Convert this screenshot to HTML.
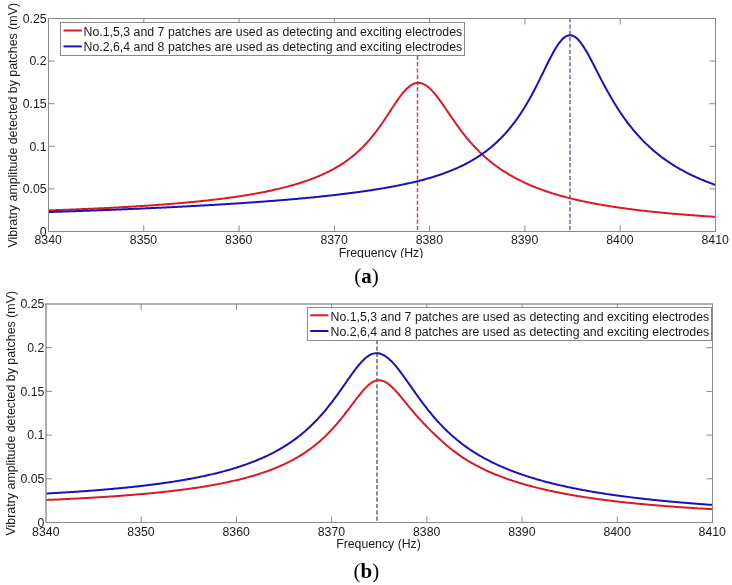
<!DOCTYPE html><html><head><meta charset="utf-8"><style>html,body{margin:0;padding:0;background:#fff;}svg{display:block;will-change:transform}</style></head><body>
<svg width="732" height="585" viewBox="0 0 732 585" font-family='"Liberation Sans", sans-serif'>
<rect width="732" height="585" fill="#fff"/>
<defs><clipPath id="ca"><rect x="48.5" y="18.5" width="667" height="213"/></clipPath><clipPath id="cb"><rect x="46" y="304" width="666.5" height="218.5"/></clipPath><clipPath id="xla"><rect x="0" y="240" width="732" height="18"/></clipPath></defs>
<g clip-path="url(#ca)">
<line x1="417.5" y1="24.3" x2="417.5" y2="232" stroke="#c84860" stroke-width="1.5" stroke-dasharray="4.2 2.1"/>
<line x1="570" y1="18.2" x2="570" y2="232" stroke="#6a6aa6" stroke-width="1.5" stroke-dasharray="4.2 2.1"/>
<path d="M48.5,210.37 L49.5,210.34 L50.5,210.31 L51.5,210.27 L52.5,210.24 L53.5,210.21 L54.5,210.17 L55.5,210.14 L56.5,210.10 L57.5,210.07 L58.5,210.03 L59.5,210.00 L60.5,209.96 L61.5,209.92 L62.5,209.89 L63.5,209.85 L64.5,209.81 L65.5,209.78 L66.5,209.74 L67.5,209.70 L68.5,209.66 L69.5,209.63 L70.5,209.59 L71.5,209.55 L72.5,209.51 L73.5,209.47 L74.5,209.43 L75.5,209.39 L76.5,209.35 L77.5,209.31 L78.5,209.27 L79.5,209.23 L80.5,209.19 L81.5,209.15 L82.5,209.11 L83.5,209.06 L84.5,209.02 L85.5,208.98 L86.5,208.94 L87.5,208.89 L88.5,208.85 L89.5,208.80 L90.5,208.76 L91.5,208.72 L92.5,208.67 L93.5,208.63 L94.5,208.58 L95.5,208.53 L96.5,208.49 L97.5,208.44 L98.5,208.39 L99.5,208.35 L100.5,208.30 L101.5,208.25 L102.5,208.20 L103.5,208.16 L104.5,208.11 L105.5,208.06 L106.5,208.01 L107.5,207.96 L108.5,207.91 L109.5,207.86 L110.5,207.81 L111.5,207.75 L112.5,207.70 L113.5,207.65 L114.5,207.60 L115.5,207.55 L116.5,207.49 L117.5,207.44 L118.5,207.38 L119.5,207.33 L120.5,207.28 L121.5,207.22 L122.5,207.16 L123.5,207.11 L124.5,207.05 L125.5,206.99 L126.5,206.94 L127.5,206.88 L128.5,206.82 L129.5,206.76 L130.5,206.70 L131.5,206.64 L132.5,206.58 L133.5,206.52 L134.5,206.46 L135.5,206.40 L136.5,206.34 L137.5,206.28 L138.5,206.22 L139.5,206.15 L140.5,206.09 L141.5,206.02 L142.5,205.96 L143.5,205.89 L144.5,205.83 L145.5,205.76 L146.5,205.70 L147.5,205.63 L148.5,205.56 L149.5,205.49 L150.5,205.42 L151.5,205.36 L152.5,205.29 L153.5,205.22 L154.5,205.14 L155.5,205.07 L156.5,205.00 L157.5,204.93 L158.5,204.86 L159.5,204.78 L160.5,204.71 L161.5,204.63 L162.5,204.56 L163.5,204.48 L164.5,204.40 L165.5,204.33 L166.5,204.25 L167.5,204.17 L168.5,204.09 L169.5,204.01 L170.5,203.93 L171.5,203.85 L172.5,203.77 L173.5,203.69 L174.5,203.60 L175.5,203.52 L176.5,203.43 L177.5,203.35 L178.5,203.26 L179.5,203.18 L180.5,203.09 L181.5,203.00 L182.5,202.91 L183.5,202.82 L184.5,202.73 L185.5,202.64 L186.5,202.55 L187.5,202.46 L188.5,202.36 L189.5,202.27 L190.5,202.17 L191.5,202.08 L192.5,201.98 L193.5,201.88 L194.5,201.79 L195.5,201.69 L196.5,201.59 L197.5,201.48 L198.5,201.38 L199.5,201.28 L200.5,201.18 L201.5,201.07 L202.5,200.97 L203.5,200.86 L204.5,200.75 L205.5,200.64 L206.5,200.53 L207.5,200.42 L208.5,200.31 L209.5,200.20 L210.5,200.08 L211.5,199.97 L212.5,199.85 L213.5,199.74 L214.5,199.62 L215.5,199.50 L216.5,199.38 L217.5,199.26 L218.5,199.14 L219.5,199.01 L220.5,198.89 L221.5,198.76 L222.5,198.63 L223.5,198.51 L224.5,198.38 L225.5,198.25 L226.5,198.11 L227.5,197.98 L228.5,197.84 L229.5,197.71 L230.5,197.57 L231.5,197.43 L232.5,197.29 L233.5,197.15 L234.5,197.01 L235.5,196.86 L236.5,196.72 L237.5,196.57 L238.5,196.42 L239.5,196.27 L240.5,196.12 L241.5,195.96 L242.5,195.81 L243.5,195.65 L244.5,195.49 L245.5,195.33 L246.5,195.17 L247.5,195.00 L248.5,194.84 L249.5,194.67 L250.5,194.50 L251.5,194.33 L252.5,194.15 L253.5,193.98 L254.5,193.80 L255.5,193.62 L256.5,193.44 L257.5,193.26 L258.5,193.07 L259.5,192.89 L260.5,192.70 L261.5,192.51 L262.5,192.31 L263.5,192.12 L264.5,191.92 L265.5,191.72 L266.5,191.51 L267.5,191.31 L268.5,191.10 L269.5,190.89 L270.5,190.68 L271.5,190.46 L272.5,190.24 L273.5,190.02 L274.5,189.80 L275.5,189.57 L276.5,189.34 L277.5,189.11 L278.5,188.87 L279.5,188.63 L280.5,188.39 L281.5,188.15 L282.5,187.90 L283.5,187.65 L284.5,187.40 L285.5,187.14 L286.5,186.88 L287.5,186.61 L288.5,186.35 L289.5,186.07 L290.5,185.80 L291.5,185.52 L292.5,185.24 L293.5,184.95 L294.5,184.66 L295.5,184.36 L296.5,184.07 L297.5,183.76 L298.5,183.45 L299.5,183.14 L300.5,182.83 L301.5,182.50 L302.5,182.18 L303.5,181.85 L304.5,181.51 L305.5,181.17 L306.5,180.83 L307.5,180.47 L308.5,180.12 L309.5,179.76 L310.5,179.39 L311.5,179.01 L312.5,178.63 L313.5,178.25 L314.5,177.86 L315.5,177.46 L316.5,177.06 L317.5,176.64 L318.5,176.23 L319.5,175.80 L320.5,175.37 L321.5,174.93 L322.5,174.48 L323.5,174.03 L324.5,173.57 L325.5,173.10 L326.5,172.62 L327.5,172.13 L328.5,171.63 L329.5,171.13 L330.5,170.62 L331.5,170.09 L332.5,169.56 L333.5,169.02 L334.5,168.46 L335.5,167.90 L336.5,167.32 L337.5,166.74 L338.5,166.14 L339.5,165.53 L340.5,164.91 L341.5,164.28 L342.5,163.63 L343.5,162.97 L344.5,162.30 L345.5,161.61 L346.5,160.91 L347.5,160.19 L348.5,159.46 L349.5,158.71 L350.5,157.95 L351.5,157.17 L352.5,156.37 L353.5,155.55 L354.5,154.72 L355.5,153.87 L356.5,153.00 L357.5,152.11 L358.5,151.20 L359.5,150.27 L360.5,149.32 L361.5,148.35 L362.5,147.36 L363.5,146.35 L364.5,145.31 L365.5,144.26 L366.5,143.18 L367.5,142.07 L368.5,140.95 L369.5,139.80 L370.5,138.62 L371.5,137.43 L372.5,136.21 L373.5,134.96 L374.5,133.69 L375.5,132.40 L376.5,131.08 L377.5,129.74 L378.5,128.38 L379.5,126.99 L380.5,125.58 L381.5,124.15 L382.5,122.71 L383.5,121.24 L384.5,119.76 L385.5,118.26 L386.5,116.75 L387.5,115.22 L388.5,113.69 L389.5,112.16 L390.5,110.62 L391.5,109.08 L392.5,107.55 L393.5,106.03 L394.5,104.53 L395.5,103.04 L396.5,101.57 L397.5,100.13 L398.5,98.71 L399.5,97.34 L400.5,96.00 L401.5,94.70 L402.5,93.45 L403.5,92.25 L404.5,91.10 L405.5,90.02 L406.5,89.00 L407.5,88.05 L408.5,87.17 L409.5,86.36 L410.5,85.64 L411.5,84.99 L412.5,84.43 L413.5,83.95 L414.5,83.56 L415.5,83.26 L416.5,83.05 L417.5,82.93 L418.5,82.89 L419.5,82.95 L420.5,83.09 L421.5,83.32 L422.5,83.64 L423.5,84.04 L424.5,84.53 L425.5,85.10 L426.5,85.75 L427.5,86.48 L428.5,87.28 L429.5,88.16 L430.5,89.10 L431.5,90.10 L432.5,91.16 L433.5,92.28 L434.5,93.45 L435.5,94.67 L436.5,95.92 L437.5,97.22 L438.5,98.55 L439.5,99.91 L440.5,101.30 L441.5,102.70 L442.5,104.13 L443.5,105.57 L444.5,107.02 L445.5,108.48 L446.5,109.95 L447.5,111.42 L448.5,112.89 L449.5,114.36 L450.5,115.83 L451.5,117.29 L452.5,118.74 L453.5,120.18 L454.5,121.61 L455.5,123.03 L456.5,124.43 L457.5,125.83 L458.5,127.20 L459.5,128.56 L460.5,129.90 L461.5,131.23 L462.5,132.54 L463.5,133.83 L464.5,135.10 L465.5,136.35 L466.5,137.58 L467.5,138.80 L468.5,139.99 L469.5,141.17 L470.5,142.32 L471.5,143.46 L472.5,144.58 L473.5,145.67 L474.5,146.75 L475.5,147.81 L476.5,148.86 L477.5,149.88 L478.5,150.89 L479.5,151.87 L480.5,152.84 L481.5,153.80 L482.5,154.73 L483.5,155.65 L484.5,156.56 L485.5,157.44 L486.5,158.32 L487.5,159.18 L488.5,160.02 L489.5,160.85 L490.5,161.66 L491.5,162.46 L492.5,163.25 L493.5,164.02 L494.5,164.78 L495.5,165.53 L496.5,166.26 L497.5,166.98 L498.5,167.69 L499.5,168.39 L500.5,169.08 L501.5,169.75 L502.5,170.42 L503.5,171.07 L504.5,171.71 L505.5,172.34 L506.5,172.97 L507.5,173.58 L508.5,174.18 L509.5,174.77 L510.5,175.35 L511.5,175.93 L512.5,176.49 L513.5,177.05 L514.5,177.60 L515.5,178.13 L516.5,178.66 L517.5,179.19 L518.5,179.70 L519.5,180.21 L520.5,180.71 L521.5,181.20 L522.5,181.68 L523.5,182.16 L524.5,182.63 L525.5,183.09 L526.5,183.54 L527.5,183.99 L528.5,184.43 L529.5,184.87 L530.5,185.30 L531.5,185.72 L532.5,186.14 L533.5,186.55 L534.5,186.95 L535.5,187.35 L536.5,187.75 L537.5,188.13 L538.5,188.52 L539.5,188.89 L540.5,189.27 L541.5,189.63 L542.5,189.99 L543.5,190.35 L544.5,190.70 L545.5,191.05 L546.5,191.39 L547.5,191.73 L548.5,192.06 L549.5,192.39 L550.5,192.71 L551.5,193.03 L552.5,193.35 L553.5,193.66 L554.5,193.97 L555.5,194.27 L556.5,194.57 L557.5,194.86 L558.5,195.15 L559.5,195.44 L560.5,195.72 L561.5,196.00 L562.5,196.28 L563.5,196.55 L564.5,196.82 L565.5,197.09 L566.5,197.35 L567.5,197.61 L568.5,197.87 L569.5,198.12 L570.5,198.37 L571.5,198.62 L572.5,198.86 L573.5,199.10 L574.5,199.34 L575.5,199.58 L576.5,199.81 L577.5,200.04 L578.5,200.26 L579.5,200.49 L580.5,200.71 L581.5,200.93 L582.5,201.14 L583.5,201.36 L584.5,201.57 L585.5,201.78 L586.5,201.98 L587.5,202.19 L588.5,202.39 L589.5,202.59 L590.5,202.79 L591.5,202.98 L592.5,203.17 L593.5,203.36 L594.5,203.55 L595.5,203.74 L596.5,203.92 L597.5,204.11 L598.5,204.29 L599.5,204.46 L600.5,204.64 L601.5,204.82 L602.5,204.99 L603.5,205.16 L604.5,205.33 L605.5,205.50 L606.5,205.66 L607.5,205.82 L608.5,205.99 L609.5,206.15 L610.5,206.30 L611.5,206.46 L612.5,206.62 L613.5,206.77 L614.5,206.92 L615.5,207.07 L616.5,207.22 L617.5,207.37 L618.5,207.52 L619.5,207.66 L620.5,207.80 L621.5,207.94 L622.5,208.08 L623.5,208.22 L624.5,208.36 L625.5,208.50 L626.5,208.63 L627.5,208.77 L628.5,208.90 L629.5,209.03 L630.5,209.16 L631.5,209.29 L632.5,209.41 L633.5,209.54 L634.5,209.66 L635.5,209.79 L636.5,209.91 L637.5,210.03 L638.5,210.15 L639.5,210.27 L640.5,210.39 L641.5,210.50 L642.5,210.62 L643.5,210.74 L644.5,210.85 L645.5,210.96 L646.5,211.07 L647.5,211.18 L648.5,211.29 L649.5,211.40 L650.5,211.51 L651.5,211.62 L652.5,211.72 L653.5,211.83 L654.5,211.93 L655.5,212.03 L656.5,212.13 L657.5,212.24 L658.5,212.34 L659.5,212.44 L660.5,212.53 L661.5,212.63 L662.5,212.73 L663.5,212.82 L664.5,212.92 L665.5,213.01 L666.5,213.11 L667.5,213.20 L668.5,213.29 L669.5,213.38 L670.5,213.47 L671.5,213.56 L672.5,213.65 L673.5,213.74 L674.5,213.83 L675.5,213.91 L676.5,214.00 L677.5,214.09 L678.5,214.17 L679.5,214.25 L680.5,214.34 L681.5,214.42 L682.5,214.50 L683.5,214.58 L684.5,214.66 L685.5,214.74 L686.5,214.82 L687.5,214.90 L688.5,214.98 L689.5,215.06 L690.5,215.13 L691.5,215.21 L692.5,215.29 L693.5,215.36 L694.5,215.44 L695.5,215.51 L696.5,215.58 L697.5,215.66 L698.5,215.73 L699.5,215.80 L700.5,215.87 L701.5,215.94 L702.5,216.01 L703.5,216.08 L704.5,216.15 L705.5,216.22 L706.5,216.29 L707.5,216.35 L708.5,216.42 L709.5,216.49 L710.5,216.55 L711.5,216.62 L712.5,216.68 L713.5,216.75 L714.5,216.81 L715.5,216.88" fill="none" stroke="#da1a22" stroke-width="2"/>
<path d="M48.5,212.07 L49.5,212.03 L50.5,212.00 L51.5,211.97 L52.5,211.93 L53.5,211.90 L54.5,211.87 L55.5,211.83 L56.5,211.80 L57.5,211.77 L58.5,211.73 L59.5,211.70 L60.5,211.67 L61.5,211.63 L62.5,211.60 L63.5,211.57 L64.5,211.53 L65.5,211.50 L66.5,211.46 L67.5,211.43 L68.5,211.39 L69.5,211.36 L70.5,211.32 L71.5,211.29 L72.5,211.25 L73.5,211.22 L74.5,211.18 L75.5,211.15 L76.5,211.11 L77.5,211.08 L78.5,211.04 L79.5,211.01 L80.5,210.97 L81.5,210.93 L82.5,210.90 L83.5,210.86 L84.5,210.83 L85.5,210.79 L86.5,210.75 L87.5,210.72 L88.5,210.68 L89.5,210.64 L90.5,210.61 L91.5,210.57 L92.5,210.53 L93.5,210.49 L94.5,210.46 L95.5,210.42 L96.5,210.38 L97.5,210.34 L98.5,210.31 L99.5,210.27 L100.5,210.23 L101.5,210.19 L102.5,210.15 L103.5,210.11 L104.5,210.07 L105.5,210.04 L106.5,210.00 L107.5,209.96 L108.5,209.92 L109.5,209.88 L110.5,209.84 L111.5,209.80 L112.5,209.76 L113.5,209.72 L114.5,209.68 L115.5,209.64 L116.5,209.60 L117.5,209.56 L118.5,209.52 L119.5,209.48 L120.5,209.44 L121.5,209.39 L122.5,209.35 L123.5,209.31 L124.5,209.27 L125.5,209.23 L126.5,209.19 L127.5,209.15 L128.5,209.10 L129.5,209.06 L130.5,209.02 L131.5,208.98 L132.5,208.93 L133.5,208.89 L134.5,208.85 L135.5,208.80 L136.5,208.76 L137.5,208.72 L138.5,208.67 L139.5,208.63 L140.5,208.59 L141.5,208.54 L142.5,208.50 L143.5,208.45 L144.5,208.41 L145.5,208.36 L146.5,208.32 L147.5,208.27 L148.5,208.23 L149.5,208.18 L150.5,208.14 L151.5,208.09 L152.5,208.05 L153.5,208.00 L154.5,207.95 L155.5,207.91 L156.5,207.86 L157.5,207.81 L158.5,207.77 L159.5,207.72 L160.5,207.67 L161.5,207.63 L162.5,207.58 L163.5,207.53 L164.5,207.48 L165.5,207.43 L166.5,207.39 L167.5,207.34 L168.5,207.29 L169.5,207.24 L170.5,207.19 L171.5,207.14 L172.5,207.09 L173.5,207.04 L174.5,206.99 L175.5,206.94 L176.5,206.89 L177.5,206.84 L178.5,206.79 L179.5,206.74 L180.5,206.69 L181.5,206.64 L182.5,206.59 L183.5,206.53 L184.5,206.48 L185.5,206.43 L186.5,206.38 L187.5,206.33 L188.5,206.27 L189.5,206.22 L190.5,206.17 L191.5,206.11 L192.5,206.06 L193.5,206.01 L194.5,205.95 L195.5,205.90 L196.5,205.84 L197.5,205.79 L198.5,205.73 L199.5,205.68 L200.5,205.62 L201.5,205.57 L202.5,205.51 L203.5,205.45 L204.5,205.40 L205.5,205.34 L206.5,205.28 L207.5,205.23 L208.5,205.17 L209.5,205.11 L210.5,205.05 L211.5,205.00 L212.5,204.94 L213.5,204.88 L214.5,204.82 L215.5,204.76 L216.5,204.70 L217.5,204.64 L218.5,204.58 L219.5,204.52 L220.5,204.46 L221.5,204.40 L222.5,204.34 L223.5,204.28 L224.5,204.22 L225.5,204.15 L226.5,204.09 L227.5,204.03 L228.5,203.97 L229.5,203.90 L230.5,203.84 L231.5,203.78 L232.5,203.71 L233.5,203.65 L234.5,203.59 L235.5,203.52 L236.5,203.46 L237.5,203.39 L238.5,203.32 L239.5,203.26 L240.5,203.19 L241.5,203.13 L242.5,203.06 L243.5,202.99 L244.5,202.92 L245.5,202.86 L246.5,202.79 L247.5,202.72 L248.5,202.65 L249.5,202.58 L250.5,202.51 L251.5,202.44 L252.5,202.37 L253.5,202.30 L254.5,202.23 L255.5,202.16 L256.5,202.09 L257.5,202.01 L258.5,201.94 L259.5,201.87 L260.5,201.80 L261.5,201.72 L262.5,201.65 L263.5,201.57 L264.5,201.50 L265.5,201.42 L266.5,201.35 L267.5,201.27 L268.5,201.20 L269.5,201.12 L270.5,201.04 L271.5,200.96 L272.5,200.89 L273.5,200.81 L274.5,200.73 L275.5,200.65 L276.5,200.57 L277.5,200.49 L278.5,200.41 L279.5,200.33 L280.5,200.25 L281.5,200.17 L282.5,200.08 L283.5,200.00 L284.5,199.92 L285.5,199.83 L286.5,199.75 L287.5,199.66 L288.5,199.58 L289.5,199.49 L290.5,199.41 L291.5,199.32 L292.5,199.23 L293.5,199.15 L294.5,199.06 L295.5,198.97 L296.5,198.88 L297.5,198.79 L298.5,198.70 L299.5,198.61 L300.5,198.52 L301.5,198.43 L302.5,198.33 L303.5,198.24 L304.5,198.15 L305.5,198.05 L306.5,197.96 L307.5,197.86 L308.5,197.77 L309.5,197.67 L310.5,197.57 L311.5,197.47 L312.5,197.38 L313.5,197.28 L314.5,197.18 L315.5,197.08 L316.5,196.98 L317.5,196.87 L318.5,196.77 L319.5,196.67 L320.5,196.57 L321.5,196.46 L322.5,196.36 L323.5,196.25 L324.5,196.14 L325.5,196.04 L326.5,195.93 L327.5,195.82 L328.5,195.71 L329.5,195.60 L330.5,195.49 L331.5,195.38 L332.5,195.27 L333.5,195.15 L334.5,195.04 L335.5,194.92 L336.5,194.81 L337.5,194.69 L338.5,194.57 L339.5,194.46 L340.5,194.34 L341.5,194.22 L342.5,194.10 L343.5,193.98 L344.5,193.85 L345.5,193.73 L346.5,193.60 L347.5,193.48 L348.5,193.35 L349.5,193.23 L350.5,193.10 L351.5,192.97 L352.5,192.84 L353.5,192.71 L354.5,192.57 L355.5,192.44 L356.5,192.31 L357.5,192.17 L358.5,192.03 L359.5,191.89 L360.5,191.76 L361.5,191.62 L362.5,191.47 L363.5,191.33 L364.5,191.19 L365.5,191.04 L366.5,190.90 L367.5,190.75 L368.5,190.60 L369.5,190.45 L370.5,190.30 L371.5,190.15 L372.5,189.99 L373.5,189.84 L374.5,189.68 L375.5,189.52 L376.5,189.36 L377.5,189.20 L378.5,189.04 L379.5,188.88 L380.5,188.71 L381.5,188.54 L382.5,188.38 L383.5,188.21 L384.5,188.03 L385.5,187.86 L386.5,187.68 L387.5,187.51 L388.5,187.33 L389.5,187.15 L390.5,186.97 L391.5,186.78 L392.5,186.60 L393.5,186.41 L394.5,186.22 L395.5,186.03 L396.5,185.83 L397.5,185.64 L398.5,185.44 L399.5,185.24 L400.5,185.04 L401.5,184.83 L402.5,184.63 L403.5,184.42 L404.5,184.21 L405.5,183.99 L406.5,183.78 L407.5,183.56 L408.5,183.34 L409.5,183.11 L410.5,182.89 L411.5,182.66 L412.5,182.43 L413.5,182.19 L414.5,181.95 L415.5,181.71 L416.5,181.47 L417.5,181.22 L418.5,180.97 L419.5,180.72 L420.5,180.47 L421.5,180.21 L422.5,179.95 L423.5,179.68 L424.5,179.41 L425.5,179.14 L426.5,178.86 L427.5,178.58 L428.5,178.30 L429.5,178.01 L430.5,177.71 L431.5,177.42 L432.5,177.12 L433.5,176.81 L434.5,176.50 L435.5,176.19 L436.5,175.87 L437.5,175.54 L438.5,175.22 L439.5,174.88 L440.5,174.54 L441.5,174.20 L442.5,173.85 L443.5,173.49 L444.5,173.13 L445.5,172.76 L446.5,172.39 L447.5,172.01 L448.5,171.63 L449.5,171.24 L450.5,170.84 L451.5,170.44 L452.5,170.02 L453.5,169.61 L454.5,169.18 L455.5,168.75 L456.5,168.31 L457.5,167.87 L458.5,167.41 L459.5,166.95 L460.5,166.48 L461.5,166.01 L462.5,165.52 L463.5,165.03 L464.5,164.52 L465.5,164.01 L466.5,163.49 L467.5,162.96 L468.5,162.42 L469.5,161.88 L470.5,161.32 L471.5,160.75 L472.5,160.17 L473.5,159.58 L474.5,158.98 L475.5,158.37 L476.5,157.74 L477.5,157.11 L478.5,156.46 L479.5,155.80 L480.5,155.13 L481.5,154.45 L482.5,153.75 L483.5,153.04 L484.5,152.32 L485.5,151.58 L486.5,150.83 L487.5,150.06 L488.5,149.28 L489.5,148.48 L490.5,147.67 L491.5,146.84 L492.5,145.99 L493.5,145.13 L494.5,144.25 L495.5,143.35 L496.5,142.44 L497.5,141.50 L498.5,140.55 L499.5,139.58 L500.5,138.59 L501.5,137.57 L502.5,136.54 L503.5,135.49 L504.5,134.41 L505.5,133.31 L506.5,132.19 L507.5,131.05 L508.5,129.88 L509.5,128.69 L510.5,127.47 L511.5,126.23 L512.5,124.96 L513.5,123.67 L514.5,122.35 L515.5,121.00 L516.5,119.62 L517.5,118.22 L518.5,116.78 L519.5,115.32 L520.5,113.83 L521.5,112.30 L522.5,110.75 L523.5,109.17 L524.5,107.55 L525.5,105.91 L526.5,104.24 L527.5,102.53 L528.5,100.79 L529.5,99.03 L530.5,97.23 L531.5,95.40 L532.5,93.55 L533.5,91.67 L534.5,89.76 L535.5,87.82 L536.5,85.87 L537.5,83.89 L538.5,81.89 L539.5,79.87 L540.5,77.84 L541.5,75.80 L542.5,73.75 L543.5,71.69 L544.5,69.64 L545.5,67.59 L546.5,65.55 L547.5,63.52 L548.5,61.52 L549.5,59.54 L550.5,57.59 L551.5,55.68 L552.5,53.81 L553.5,51.99 L554.5,50.23 L555.5,48.53 L556.5,46.91 L557.5,45.36 L558.5,43.91 L559.5,42.54 L560.5,41.27 L561.5,40.11 L562.5,39.06 L563.5,38.13 L564.5,37.33 L565.5,36.65 L566.5,36.10 L567.5,35.69 L568.5,35.41 L569.5,35.28 L570.5,35.28 L571.5,35.42 L572.5,35.69 L573.5,36.10 L574.5,36.65 L575.5,37.32 L576.5,38.11 L577.5,39.03 L578.5,40.05 L579.5,41.19 L580.5,42.42 L581.5,43.75 L582.5,45.17 L583.5,46.67 L584.5,48.24 L585.5,49.88 L586.5,51.57 L587.5,53.32 L588.5,55.11 L589.5,56.95 L590.5,58.82 L591.5,60.71 L592.5,62.63 L593.5,64.56 L594.5,66.51 L595.5,68.46 L596.5,70.42 L597.5,72.38 L598.5,74.33 L599.5,76.28 L600.5,78.21 L601.5,80.14 L602.5,82.04 L603.5,83.94 L604.5,85.81 L605.5,87.66 L606.5,89.50 L607.5,91.31 L608.5,93.10 L609.5,94.86 L610.5,96.60 L611.5,98.32 L612.5,100.01 L613.5,101.68 L614.5,103.33 L615.5,104.95 L616.5,106.55 L617.5,108.12 L618.5,109.67 L619.5,111.20 L620.5,112.70 L621.5,114.18 L622.5,115.63 L623.5,117.06 L624.5,118.47 L625.5,119.85 L626.5,121.21 L627.5,122.55 L628.5,123.87 L629.5,125.16 L630.5,126.44 L631.5,127.69 L632.5,128.92 L633.5,130.13 L634.5,131.32 L635.5,132.49 L636.5,133.64 L637.5,134.77 L638.5,135.88 L639.5,136.98 L640.5,138.05 L641.5,139.11 L642.5,140.15 L643.5,141.17 L644.5,142.17 L645.5,143.16 L646.5,144.13 L647.5,145.09 L648.5,146.03 L649.5,146.95 L650.5,147.86 L651.5,148.75 L652.5,149.63 L653.5,150.50 L654.5,151.35 L655.5,152.18 L656.5,153.01 L657.5,153.82 L658.5,154.62 L659.5,155.40 L660.5,156.17 L661.5,156.93 L662.5,157.68 L663.5,158.41 L664.5,159.14 L665.5,159.85 L666.5,160.55 L667.5,161.24 L668.5,161.93 L669.5,162.60 L670.5,163.25 L671.5,163.90 L672.5,164.54 L673.5,165.17 L674.5,165.79 L675.5,166.41 L676.5,167.01 L677.5,167.60 L678.5,168.19 L679.5,168.76 L680.5,169.33 L681.5,169.89 L682.5,170.44 L683.5,170.98 L684.5,171.52 L685.5,172.05 L686.5,172.57 L687.5,173.08 L688.5,173.59 L689.5,174.08 L690.5,174.58 L691.5,175.06 L692.5,175.54 L693.5,176.01 L694.5,176.48 L695.5,176.93 L696.5,177.39 L697.5,177.83 L698.5,178.27 L699.5,178.71 L700.5,179.14 L701.5,179.56 L702.5,179.98 L703.5,180.39 L704.5,180.79 L705.5,181.20 L706.5,181.59 L707.5,181.98 L708.5,182.37 L709.5,182.75 L710.5,183.13 L711.5,183.50 L712.5,183.86 L713.5,184.23 L714.5,184.58 L715.5,184.94" fill="none" stroke="#1a12b6" stroke-width="2"/>
</g>
<line x1="143.786" y1="231.5" x2="143.786" y2="225.5" stroke="#888" stroke-width="1"/><line x1="143.786" y1="18.5" x2="143.786" y2="24.5" stroke="#888" stroke-width="1"/><line x1="239.072" y1="231.5" x2="239.072" y2="225.5" stroke="#888" stroke-width="1"/><line x1="239.072" y1="18.5" x2="239.072" y2="24.5" stroke="#888" stroke-width="1"/><line x1="334.358" y1="231.5" x2="334.358" y2="225.5" stroke="#888" stroke-width="1"/><line x1="334.358" y1="18.5" x2="334.358" y2="24.5" stroke="#888" stroke-width="1"/><line x1="429.644" y1="231.5" x2="429.644" y2="225.5" stroke="#888" stroke-width="1"/><line x1="429.644" y1="18.5" x2="429.644" y2="24.5" stroke="#888" stroke-width="1"/><line x1="524.9300000000001" y1="231.5" x2="524.9300000000001" y2="225.5" stroke="#888" stroke-width="1"/><line x1="524.9300000000001" y1="18.5" x2="524.9300000000001" y2="24.5" stroke="#888" stroke-width="1"/><line x1="620.216" y1="231.5" x2="620.216" y2="225.5" stroke="#888" stroke-width="1"/><line x1="620.216" y1="18.5" x2="620.216" y2="24.5" stroke="#888" stroke-width="1"/><line x1="48.5" y1="188.9" x2="54.5" y2="188.9" stroke="#888" stroke-width="1"/><line x1="715.5" y1="188.9" x2="709.5" y2="188.9" stroke="#888" stroke-width="1"/><line x1="48.5" y1="146.3" x2="54.5" y2="146.3" stroke="#888" stroke-width="1"/><line x1="715.5" y1="146.3" x2="709.5" y2="146.3" stroke="#888" stroke-width="1"/><line x1="48.5" y1="103.69999999999999" x2="54.5" y2="103.69999999999999" stroke="#888" stroke-width="1"/><line x1="715.5" y1="103.69999999999999" x2="709.5" y2="103.69999999999999" stroke="#888" stroke-width="1"/><line x1="48.5" y1="61.099999999999994" x2="54.5" y2="61.099999999999994" stroke="#888" stroke-width="1"/><line x1="715.5" y1="61.099999999999994" x2="709.5" y2="61.099999999999994" stroke="#888" stroke-width="1"/><line x1="48" y1="18.5" x2="716" y2="18.5" stroke="#888" stroke-width="1" shape-rendering="crispEdges"/><line x1="48" y1="231.5" x2="716" y2="231.5" stroke="#888" stroke-width="1" shape-rendering="crispEdges"/><line x1="48.5" y1="18" x2="48.5" y2="232" stroke="#888" stroke-width="1" shape-rendering="crispEdges"/><line x1="715.5" y1="18" x2="715.5" y2="232" stroke="#888" stroke-width="1" shape-rendering="crispEdges"/>
<g font-size="12.3" fill="#1a1a1a"><text x="48.20" y="244.45" text-anchor="middle">8340</text><text x="143.49" y="244.45" text-anchor="middle">8350</text><text x="238.77" y="244.45" text-anchor="middle">8360</text><text x="334.06" y="244.45" text-anchor="middle">8370</text><text x="429.34" y="244.45" text-anchor="middle">8380</text><text x="524.63" y="244.45" text-anchor="middle">8390</text><text x="619.92" y="244.45" text-anchor="middle">8400</text><text x="715.20" y="244.45" text-anchor="middle">8410</text><text x="46.6" y="235.70" text-anchor="end">0</text><text x="46.6" y="193.10" text-anchor="end">0.05</text><text x="46.6" y="150.50" text-anchor="end">0.1</text><text x="46.6" y="107.90" text-anchor="end">0.15</text><text x="46.6" y="65.30" text-anchor="end">0.2</text><text x="46.6" y="22.70" text-anchor="end">0.25</text></g>
<rect x="60.5" y="22.5" width="404" height="33" fill="#fff" stroke="#888" stroke-width="1" shape-rendering="crispEdges"/>
<line x1="63.5" y1="30.5" x2="81.8" y2="30.5" stroke="#da1a22" stroke-width="2"/>
<line x1="63.5" y1="46.4" x2="81.8" y2="46.4" stroke="#1a12b6" stroke-width="2"/>
<g font-size="12.3" fill="#1a1a1a"><text x="83.5" y="35.8" letter-spacing="0.02">No.1,5,3 and 7 patches are used as detecting and exciting electrodes</text><text x="83.5" y="51.2" letter-spacing="0.02">No.2,6,4 and 8 patches are used as detecting and exciting electrodes</text></g>
<g clip-path="url(#xla)"><text x="381" y="256.8" font-size="12.3" fill="#1a1a1a" text-anchor="middle">Frequency (Hz)</text></g>
<text transform="translate(16.9,125.2) rotate(-90)" font-size="12.42" fill="#1a1a1a" text-anchor="middle">Vibratry amplitude detected by patches (mV)</text>
<text x="366.5" y="282.9" font-family='"Liberation Serif", serif' font-size="21" fill="#000" text-anchor="middle">(<tspan font-weight="bold">a</tspan>)</text>
<g clip-path="url(#cb)">
<line x1="377" y1="308.6" x2="377" y2="522" stroke="#5a5a5a" stroke-width="1.4" stroke-dasharray="4.2 2.1"/>
<path d="M46.5,499.95 L47.5,499.91 L48.5,499.86 L49.5,499.82 L50.5,499.78 L51.5,499.74 L52.5,499.69 L53.5,499.65 L54.5,499.61 L55.5,499.56 L56.5,499.52 L57.5,499.47 L58.5,499.43 L59.5,499.38 L60.5,499.34 L61.5,499.29 L62.5,499.24 L63.5,499.20 L64.5,499.15 L65.5,499.10 L66.5,499.05 L67.5,499.01 L68.5,498.96 L69.5,498.91 L70.5,498.86 L71.5,498.81 L72.5,498.76 L73.5,498.71 L74.5,498.66 L75.5,498.60 L76.5,498.55 L77.5,498.50 L78.5,498.45 L79.5,498.39 L80.5,498.34 L81.5,498.29 L82.5,498.23 L83.5,498.18 L84.5,498.12 L85.5,498.07 L86.5,498.01 L87.5,497.95 L88.5,497.90 L89.5,497.84 L90.5,497.78 L91.5,497.72 L92.5,497.66 L93.5,497.61 L94.5,497.55 L95.5,497.49 L96.5,497.42 L97.5,497.36 L98.5,497.30 L99.5,497.24 L100.5,497.18 L101.5,497.11 L102.5,497.05 L103.5,496.99 L104.5,496.92 L105.5,496.85 L106.5,496.79 L107.5,496.72 L108.5,496.66 L109.5,496.59 L110.5,496.52 L111.5,496.45 L112.5,496.38 L113.5,496.31 L114.5,496.24 L115.5,496.17 L116.5,496.10 L117.5,496.03 L118.5,495.96 L119.5,495.88 L120.5,495.81 L121.5,495.73 L122.5,495.66 L123.5,495.58 L124.5,495.51 L125.5,495.43 L126.5,495.35 L127.5,495.27 L128.5,495.19 L129.5,495.11 L130.5,495.03 L131.5,494.95 L132.5,494.87 L133.5,494.79 L134.5,494.71 L135.5,494.62 L136.5,494.54 L137.5,494.45 L138.5,494.37 L139.5,494.28 L140.5,494.19 L141.5,494.10 L142.5,494.01 L143.5,493.92 L144.5,493.83 L145.5,493.74 L146.5,493.65 L147.5,493.56 L148.5,493.46 L149.5,493.37 L150.5,493.27 L151.5,493.17 L152.5,493.08 L153.5,492.98 L154.5,492.88 L155.5,492.78 L156.5,492.68 L157.5,492.58 L158.5,492.47 L159.5,492.37 L160.5,492.27 L161.5,492.16 L162.5,492.05 L163.5,491.95 L164.5,491.84 L165.5,491.73 L166.5,491.62 L167.5,491.50 L168.5,491.39 L169.5,491.28 L170.5,491.16 L171.5,491.05 L172.5,490.93 L173.5,490.81 L174.5,490.69 L175.5,490.57 L176.5,490.45 L177.5,490.32 L178.5,490.20 L179.5,490.08 L180.5,489.95 L181.5,489.82 L182.5,489.69 L183.5,489.56 L184.5,489.43 L185.5,489.30 L186.5,489.16 L187.5,489.02 L188.5,488.89 L189.5,488.75 L190.5,488.61 L191.5,488.47 L192.5,488.32 L193.5,488.18 L194.5,488.03 L195.5,487.89 L196.5,487.74 L197.5,487.59 L198.5,487.43 L199.5,487.28 L200.5,487.12 L201.5,486.97 L202.5,486.81 L203.5,486.65 L204.5,486.48 L205.5,486.32 L206.5,486.15 L207.5,485.99 L208.5,485.82 L209.5,485.65 L210.5,485.47 L211.5,485.30 L212.5,485.12 L213.5,484.94 L214.5,484.76 L215.5,484.58 L216.5,484.39 L217.5,484.20 L218.5,484.01 L219.5,483.82 L220.5,483.63 L221.5,483.43 L222.5,483.23 L223.5,483.03 L224.5,482.83 L225.5,482.62 L226.5,482.41 L227.5,482.20 L228.5,481.99 L229.5,481.77 L230.5,481.55 L231.5,481.33 L232.5,481.11 L233.5,480.88 L234.5,480.65 L235.5,480.42 L236.5,480.18 L237.5,479.94 L238.5,479.70 L239.5,479.46 L240.5,479.21 L241.5,478.96 L242.5,478.70 L243.5,478.45 L244.5,478.19 L245.5,477.92 L246.5,477.65 L247.5,477.38 L248.5,477.11 L249.5,476.83 L250.5,476.55 L251.5,476.26 L252.5,475.97 L253.5,475.67 L254.5,475.38 L255.5,475.07 L256.5,474.77 L257.5,474.46 L258.5,474.14 L259.5,473.82 L260.5,473.50 L261.5,473.17 L262.5,472.83 L263.5,472.49 L264.5,472.15 L265.5,471.80 L266.5,471.45 L267.5,471.09 L268.5,470.73 L269.5,470.36 L270.5,469.98 L271.5,469.60 L272.5,469.21 L273.5,468.82 L274.5,468.42 L275.5,468.02 L276.5,467.61 L277.5,467.19 L278.5,466.76 L279.5,466.33 L280.5,465.89 L281.5,465.45 L282.5,465.00 L283.5,464.54 L284.5,464.07 L285.5,463.60 L286.5,463.12 L287.5,462.63 L288.5,462.13 L289.5,461.62 L290.5,461.11 L291.5,460.58 L292.5,460.05 L293.5,459.51 L294.5,458.96 L295.5,458.40 L296.5,457.83 L297.5,457.25 L298.5,456.66 L299.5,456.06 L300.5,455.45 L301.5,454.82 L302.5,454.19 L303.5,453.55 L304.5,452.89 L305.5,452.23 L306.5,451.55 L307.5,450.85 L308.5,450.15 L309.5,449.43 L310.5,448.70 L311.5,447.96 L312.5,447.21 L313.5,446.43 L314.5,445.65 L315.5,444.85 L316.5,444.04 L317.5,443.21 L318.5,442.37 L319.5,441.51 L320.5,440.63 L321.5,439.74 L322.5,438.83 L323.5,437.91 L324.5,436.97 L325.5,436.01 L326.5,435.04 L327.5,434.04 L328.5,433.03 L329.5,432.01 L330.5,430.96 L331.5,429.90 L332.5,428.82 L333.5,427.72 L334.5,426.60 L335.5,425.47 L336.5,424.32 L337.5,423.15 L338.5,421.96 L339.5,420.76 L340.5,419.54 L341.5,418.31 L342.5,417.06 L343.5,415.80 L344.5,414.52 L345.5,413.23 L346.5,411.93 L347.5,410.62 L348.5,409.30 L349.5,407.98 L350.5,406.65 L351.5,405.31 L352.5,403.98 L353.5,402.65 L354.5,401.32 L355.5,400.00 L356.5,398.68 L357.5,397.38 L358.5,396.10 L359.5,394.83 L360.5,393.59 L361.5,392.38 L362.5,391.20 L363.5,390.05 L364.5,388.95 L365.5,387.89 L366.5,386.88 L367.5,385.93 L368.5,385.04 L369.5,384.21 L370.5,383.45 L371.5,382.76 L372.5,382.15 L373.5,381.62 L374.5,381.18 L375.5,380.82 L376.5,380.55 L377.5,380.37 L378.5,380.29 L379.5,380.30 L380.5,380.39 L381.5,380.57 L382.5,380.84 L383.5,381.20 L384.5,381.63 L385.5,382.14 L386.5,382.73 L387.5,383.39 L388.5,384.11 L389.5,384.89 L390.5,385.73 L391.5,386.63 L392.5,387.57 L393.5,388.56 L394.5,389.59 L395.5,390.65 L396.5,391.75 L397.5,392.87 L398.5,394.02 L399.5,395.19 L400.5,396.38 L401.5,397.58 L402.5,398.79 L403.5,400.00 L404.5,401.23 L405.5,402.45 L406.5,403.68 L407.5,404.90 L408.5,406.12 L409.5,407.34 L410.5,408.54 L411.5,409.74 L412.5,410.93 L413.5,412.11 L414.5,413.28 L415.5,414.44 L416.5,415.58 L417.5,416.70 L418.5,417.82 L419.5,418.92 L420.5,420.01 L421.5,421.09 L422.5,422.16 L423.5,423.22 L424.5,424.27 L425.5,425.31 L426.5,426.34 L427.5,427.36 L428.5,428.37 L429.5,429.38 L430.5,430.37 L431.5,431.36 L432.5,432.34 L433.5,433.31 L434.5,434.27 L435.5,435.22 L436.5,436.16 L437.5,437.10 L438.5,438.03 L439.5,438.94 L440.5,439.85 L441.5,440.76 L442.5,441.65 L443.5,442.54 L444.5,443.41 L445.5,444.28 L446.5,445.14 L447.5,445.99 L448.5,446.83 L449.5,447.66 L450.5,448.48 L451.5,449.29 L452.5,450.08 L453.5,450.86 L454.5,451.63 L455.5,452.39 L456.5,453.13 L457.5,453.86 L458.5,454.58 L459.5,455.28 L460.5,455.97 L461.5,456.65 L462.5,457.32 L463.5,457.98 L464.5,458.62 L465.5,459.26 L466.5,459.88 L467.5,460.50 L468.5,461.10 L469.5,461.70 L470.5,462.29 L471.5,462.86 L472.5,463.43 L473.5,463.99 L474.5,464.54 L475.5,465.08 L476.5,465.62 L477.5,466.15 L478.5,466.67 L479.5,467.18 L480.5,467.68 L481.5,468.18 L482.5,468.67 L483.5,469.15 L484.5,469.63 L485.5,470.10 L486.5,470.56 L487.5,471.02 L488.5,471.47 L489.5,471.91 L490.5,472.35 L491.5,472.78 L492.5,473.21 L493.5,473.63 L494.5,474.05 L495.5,474.46 L496.5,474.86 L497.5,475.26 L498.5,475.66 L499.5,476.05 L500.5,476.43 L501.5,476.81 L502.5,477.19 L503.5,477.56 L504.5,477.93 L505.5,478.29 L506.5,478.64 L507.5,479.00 L508.5,479.35 L509.5,479.69 L510.5,480.03 L511.5,480.37 L512.5,480.70 L513.5,481.03 L514.5,481.35 L515.5,481.67 L516.5,481.99 L517.5,482.30 L518.5,482.61 L519.5,482.92 L520.5,483.22 L521.5,483.52 L522.5,483.81 L523.5,484.11 L524.5,484.40 L525.5,484.68 L526.5,484.96 L527.5,485.24 L528.5,485.52 L529.5,485.79 L530.5,486.06 L531.5,486.33 L532.5,486.59 L533.5,486.85 L534.5,487.11 L535.5,487.37 L536.5,487.62 L537.5,487.87 L538.5,488.12 L539.5,488.36 L540.5,488.60 L541.5,488.84 L542.5,489.08 L543.5,489.31 L544.5,489.55 L545.5,489.77 L546.5,490.00 L547.5,490.23 L548.5,490.45 L549.5,490.67 L550.5,490.89 L551.5,491.10 L552.5,491.31 L553.5,491.53 L554.5,491.73 L555.5,491.94 L556.5,492.15 L557.5,492.35 L558.5,492.55 L559.5,492.75 L560.5,492.94 L561.5,493.14 L562.5,493.33 L563.5,493.52 L564.5,493.71 L565.5,493.90 L566.5,494.08 L567.5,494.26 L568.5,494.45 L569.5,494.63 L570.5,494.80 L571.5,494.98 L572.5,495.15 L573.5,495.33 L574.5,495.50 L575.5,495.67 L576.5,495.83 L577.5,496.00 L578.5,496.17 L579.5,496.33 L580.5,496.49 L581.5,496.65 L582.5,496.81 L583.5,496.97 L584.5,497.12 L585.5,497.27 L586.5,497.43 L587.5,497.58 L588.5,497.73 L589.5,497.88 L590.5,498.02 L591.5,498.17 L592.5,498.31 L593.5,498.46 L594.5,498.60 L595.5,498.74 L596.5,498.88 L597.5,499.02 L598.5,499.15 L599.5,499.29 L600.5,499.42 L601.5,499.55 L602.5,499.69 L603.5,499.82 L604.5,499.95 L605.5,500.07 L606.5,500.20 L607.5,500.33 L608.5,500.45 L609.5,500.58 L610.5,500.70 L611.5,500.82 L612.5,500.94 L613.5,501.06 L614.5,501.18 L615.5,501.30 L616.5,501.41 L617.5,501.53 L618.5,501.64 L619.5,501.76 L620.5,501.87 L621.5,501.98 L622.5,502.09 L623.5,502.20 L624.5,502.31 L625.5,502.42 L626.5,502.53 L627.5,502.63 L628.5,502.74 L629.5,502.84 L630.5,502.95 L631.5,503.05 L632.5,503.15 L633.5,503.25 L634.5,503.35 L635.5,503.45 L636.5,503.55 L637.5,503.65 L638.5,503.74 L639.5,503.84 L640.5,503.94 L641.5,504.03 L642.5,504.12 L643.5,504.22 L644.5,504.31 L645.5,504.40 L646.5,504.49 L647.5,504.58 L648.5,504.67 L649.5,504.76 L650.5,504.85 L651.5,504.94 L652.5,505.02 L653.5,505.11 L654.5,505.19 L655.5,505.28 L656.5,505.36 L657.5,505.45 L658.5,505.53 L659.5,505.61 L660.5,505.69 L661.5,505.77 L662.5,505.85 L663.5,505.93 L664.5,506.01 L665.5,506.09 L666.5,506.17 L667.5,506.25 L668.5,506.32 L669.5,506.40 L670.5,506.47 L671.5,506.55 L672.5,506.62 L673.5,506.70 L674.5,506.77 L675.5,506.84 L676.5,506.92 L677.5,506.99 L678.5,507.06 L679.5,507.13 L680.5,507.20 L681.5,507.27 L682.5,507.34 L683.5,507.41 L684.5,507.48 L685.5,507.54 L686.5,507.61 L687.5,507.68 L688.5,507.74 L689.5,507.81 L690.5,507.87 L691.5,507.94 L692.5,508.00 L693.5,508.07 L694.5,508.13 L695.5,508.19 L696.5,508.26 L697.5,508.32 L698.5,508.38 L699.5,508.44 L700.5,508.50 L701.5,508.56 L702.5,508.62 L703.5,508.68 L704.5,508.74 L705.5,508.80 L706.5,508.86 L707.5,508.92 L708.5,508.97 L709.5,509.03 L710.5,509.09 L711.5,509.14 L712.5,509.20" fill="none" stroke="#da1a22" stroke-width="2"/>
<path d="M46.5,493.50 L47.5,493.45 L48.5,493.40 L49.5,493.34 L50.5,493.29 L51.5,493.23 L52.5,493.18 L53.5,493.12 L54.5,493.07 L55.5,493.01 L56.5,492.95 L57.5,492.89 L58.5,492.84 L59.5,492.78 L60.5,492.72 L61.5,492.66 L62.5,492.60 L63.5,492.54 L64.5,492.48 L65.5,492.42 L66.5,492.36 L67.5,492.29 L68.5,492.23 L69.5,492.17 L70.5,492.10 L71.5,492.04 L72.5,491.97 L73.5,491.91 L74.5,491.84 L75.5,491.78 L76.5,491.71 L77.5,491.64 L78.5,491.57 L79.5,491.51 L80.5,491.44 L81.5,491.37 L82.5,491.30 L83.5,491.23 L84.5,491.15 L85.5,491.08 L86.5,491.01 L87.5,490.94 L88.5,490.86 L89.5,490.79 L90.5,490.71 L91.5,490.64 L92.5,490.56 L93.5,490.48 L94.5,490.41 L95.5,490.33 L96.5,490.25 L97.5,490.17 L98.5,490.09 L99.5,490.01 L100.5,489.93 L101.5,489.85 L102.5,489.76 L103.5,489.68 L104.5,489.60 L105.5,489.51 L106.5,489.43 L107.5,489.34 L108.5,489.25 L109.5,489.17 L110.5,489.08 L111.5,488.99 L112.5,488.90 L113.5,488.81 L114.5,488.72 L115.5,488.62 L116.5,488.53 L117.5,488.44 L118.5,488.34 L119.5,488.25 L120.5,488.15 L121.5,488.06 L122.5,487.96 L123.5,487.86 L124.5,487.76 L125.5,487.66 L126.5,487.56 L127.5,487.46 L128.5,487.35 L129.5,487.25 L130.5,487.15 L131.5,487.04 L132.5,486.93 L133.5,486.83 L134.5,486.72 L135.5,486.61 L136.5,486.50 L137.5,486.39 L138.5,486.27 L139.5,486.16 L140.5,486.05 L141.5,485.93 L142.5,485.81 L143.5,485.70 L144.5,485.58 L145.5,485.46 L146.5,485.34 L147.5,485.22 L148.5,485.09 L149.5,484.97 L150.5,484.85 L151.5,484.72 L152.5,484.59 L153.5,484.46 L154.5,484.33 L155.5,484.20 L156.5,484.07 L157.5,483.94 L158.5,483.80 L159.5,483.67 L160.5,483.53 L161.5,483.39 L162.5,483.25 L163.5,483.11 L164.5,482.97 L165.5,482.83 L166.5,482.68 L167.5,482.53 L168.5,482.39 L169.5,482.24 L170.5,482.09 L171.5,481.93 L172.5,481.78 L173.5,481.62 L174.5,481.47 L175.5,481.31 L176.5,481.15 L177.5,480.99 L178.5,480.83 L179.5,480.66 L180.5,480.49 L181.5,480.33 L182.5,480.16 L183.5,479.98 L184.5,479.81 L185.5,479.64 L186.5,479.46 L187.5,479.28 L188.5,479.10 L189.5,478.92 L190.5,478.73 L191.5,478.55 L192.5,478.36 L193.5,478.17 L194.5,477.98 L195.5,477.78 L196.5,477.59 L197.5,477.39 L198.5,477.19 L199.5,476.99 L200.5,476.78 L201.5,476.57 L202.5,476.37 L203.5,476.15 L204.5,475.94 L205.5,475.72 L206.5,475.50 L207.5,475.28 L208.5,475.06 L209.5,474.83 L210.5,474.61 L211.5,474.37 L212.5,474.14 L213.5,473.90 L214.5,473.66 L215.5,473.42 L216.5,473.18 L217.5,472.93 L218.5,472.68 L219.5,472.43 L220.5,472.17 L221.5,471.91 L222.5,471.65 L223.5,471.38 L224.5,471.11 L225.5,470.84 L226.5,470.57 L227.5,470.29 L228.5,470.00 L229.5,469.72 L230.5,469.43 L231.5,469.14 L232.5,468.84 L233.5,468.54 L234.5,468.24 L235.5,467.93 L236.5,467.62 L237.5,467.30 L238.5,466.98 L239.5,466.66 L240.5,466.33 L241.5,466.00 L242.5,465.66 L243.5,465.32 L244.5,464.98 L245.5,464.63 L246.5,464.27 L247.5,463.91 L248.5,463.55 L249.5,463.18 L250.5,462.80 L251.5,462.43 L252.5,462.04 L253.5,461.65 L254.5,461.26 L255.5,460.86 L256.5,460.45 L257.5,460.04 L258.5,459.62 L259.5,459.20 L260.5,458.77 L261.5,458.33 L262.5,457.89 L263.5,457.44 L264.5,456.99 L265.5,456.52 L266.5,456.06 L267.5,455.58 L268.5,455.10 L269.5,454.61 L270.5,454.11 L271.5,453.61 L272.5,453.10 L273.5,452.58 L274.5,452.05 L275.5,451.51 L276.5,450.97 L277.5,450.42 L278.5,449.86 L279.5,449.29 L280.5,448.71 L281.5,448.12 L282.5,447.52 L283.5,446.92 L284.5,446.30 L285.5,445.68 L286.5,445.04 L287.5,444.39 L288.5,443.74 L289.5,443.07 L290.5,442.39 L291.5,441.70 L292.5,441.00 L293.5,440.29 L294.5,439.57 L295.5,438.83 L296.5,438.09 L297.5,437.33 L298.5,436.55 L299.5,435.77 L300.5,434.97 L301.5,434.16 L302.5,433.33 L303.5,432.50 L304.5,431.64 L305.5,430.78 L306.5,429.89 L307.5,429.00 L308.5,428.09 L309.5,427.16 L310.5,426.22 L311.5,425.26 L312.5,424.29 L313.5,423.30 L314.5,422.29 L315.5,421.27 L316.5,420.23 L317.5,419.18 L318.5,418.10 L319.5,417.02 L320.5,415.91 L321.5,414.79 L322.5,413.65 L323.5,412.49 L324.5,411.31 L325.5,410.12 L326.5,408.91 L327.5,407.69 L328.5,406.45 L329.5,405.19 L330.5,403.91 L331.5,402.62 L332.5,401.31 L333.5,399.99 L334.5,398.65 L335.5,397.30 L336.5,395.93 L337.5,394.56 L338.5,393.17 L339.5,391.77 L340.5,390.36 L341.5,388.94 L342.5,387.52 L343.5,386.09 L344.5,384.65 L345.5,383.22 L346.5,381.78 L347.5,380.34 L348.5,378.91 L349.5,377.49 L350.5,376.07 L351.5,374.67 L352.5,373.28 L353.5,371.91 L354.5,370.56 L355.5,369.23 L356.5,367.93 L357.5,366.66 L358.5,365.43 L359.5,364.24 L360.5,363.08 L361.5,361.98 L362.5,360.92 L363.5,359.92 L364.5,358.97 L365.5,358.09 L366.5,357.27 L367.5,356.52 L368.5,355.85 L369.5,355.24 L370.5,354.71 L371.5,354.26 L372.5,353.89 L373.5,353.60 L374.5,353.38 L375.5,353.25 L376.5,353.20 L377.5,353.24 L378.5,353.35 L379.5,353.54 L380.5,353.81 L381.5,354.16 L382.5,354.58 L383.5,355.07 L384.5,355.64 L385.5,356.27 L386.5,356.96 L387.5,357.72 L388.5,358.54 L389.5,359.42 L390.5,360.35 L391.5,361.33 L392.5,362.36 L393.5,363.44 L394.5,364.56 L395.5,365.72 L396.5,366.92 L397.5,368.15 L398.5,369.42 L399.5,370.71 L400.5,372.02 L401.5,373.36 L402.5,374.72 L403.5,376.09 L404.5,377.48 L405.5,378.88 L406.5,380.29 L407.5,381.71 L408.5,383.14 L409.5,384.56 L410.5,385.99 L411.5,387.42 L412.5,388.85 L413.5,390.27 L414.5,391.69 L415.5,393.11 L416.5,394.51 L417.5,395.91 L418.5,397.30 L419.5,398.68 L420.5,400.04 L421.5,401.40 L422.5,402.74 L423.5,404.07 L424.5,405.39 L425.5,406.69 L426.5,407.98 L427.5,409.25 L428.5,410.51 L429.5,411.75 L430.5,412.98 L431.5,414.19 L432.5,415.39 L433.5,416.57 L434.5,417.73 L435.5,418.88 L436.5,420.01 L437.5,421.13 L438.5,422.23 L439.5,423.31 L440.5,424.38 L441.5,425.43 L442.5,426.47 L443.5,427.49 L444.5,428.49 L445.5,429.48 L446.5,430.46 L447.5,431.42 L448.5,432.37 L449.5,433.30 L450.5,434.22 L451.5,435.12 L452.5,436.01 L453.5,436.89 L454.5,437.75 L455.5,438.60 L456.5,439.44 L457.5,440.26 L458.5,441.07 L459.5,441.87 L460.5,442.65 L461.5,443.43 L462.5,444.19 L463.5,444.94 L464.5,445.68 L465.5,446.41 L466.5,447.12 L467.5,447.83 L468.5,448.53 L469.5,449.21 L470.5,449.88 L471.5,450.55 L472.5,451.20 L473.5,451.85 L474.5,452.48 L475.5,453.11 L476.5,453.72 L477.5,454.33 L478.5,454.93 L479.5,455.52 L480.5,456.10 L481.5,456.68 L482.5,457.24 L483.5,457.80 L484.5,458.35 L485.5,458.89 L486.5,459.42 L487.5,459.95 L488.5,460.47 L489.5,460.98 L490.5,461.49 L491.5,461.99 L492.5,462.48 L493.5,462.97 L494.5,463.45 L495.5,463.92 L496.5,464.39 L497.5,464.85 L498.5,465.31 L499.5,465.76 L500.5,466.21 L501.5,466.65 L502.5,467.08 L503.5,467.51 L504.5,467.93 L505.5,468.35 L506.5,468.76 L507.5,469.17 L508.5,469.57 L509.5,469.97 L510.5,470.37 L511.5,470.75 L512.5,471.14 L513.5,471.52 L514.5,471.89 L515.5,472.27 L516.5,472.63 L517.5,472.99 L518.5,473.35 L519.5,473.71 L520.5,474.06 L521.5,474.40 L522.5,474.75 L523.5,475.09 L524.5,475.42 L525.5,475.75 L526.5,476.08 L527.5,476.40 L528.5,476.72 L529.5,477.04 L530.5,477.35 L531.5,477.66 L532.5,477.97 L533.5,478.27 L534.5,478.57 L535.5,478.87 L536.5,479.17 L537.5,479.46 L538.5,479.74 L539.5,480.03 L540.5,480.31 L541.5,480.59 L542.5,480.87 L543.5,481.14 L544.5,481.41 L545.5,481.68 L546.5,481.94 L547.5,482.20 L548.5,482.46 L549.5,482.72 L550.5,482.97 L551.5,483.23 L552.5,483.47 L553.5,483.72 L554.5,483.97 L555.5,484.21 L556.5,484.45 L557.5,484.68 L558.5,484.92 L559.5,485.15 L560.5,485.38 L561.5,485.61 L562.5,485.84 L563.5,486.06 L564.5,486.28 L565.5,486.50 L566.5,486.72 L567.5,486.93 L568.5,487.15 L569.5,487.36 L570.5,487.57 L571.5,487.77 L572.5,487.98 L573.5,488.18 L574.5,488.38 L575.5,488.58 L576.5,488.78 L577.5,488.98 L578.5,489.17 L579.5,489.36 L580.5,489.56 L581.5,489.74 L582.5,489.93 L583.5,490.12 L584.5,490.30 L585.5,490.48 L586.5,490.66 L587.5,490.84 L588.5,491.02 L589.5,491.20 L590.5,491.37 L591.5,491.54 L592.5,491.72 L593.5,491.89 L594.5,492.05 L595.5,492.22 L596.5,492.39 L597.5,492.55 L598.5,492.71 L599.5,492.87 L600.5,493.03 L601.5,493.19 L602.5,493.35 L603.5,493.51 L604.5,493.66 L605.5,493.81 L606.5,493.97 L607.5,494.12 L608.5,494.27 L609.5,494.41 L610.5,494.56 L611.5,494.71 L612.5,494.85 L613.5,494.99 L614.5,495.14 L615.5,495.28 L616.5,495.42 L617.5,495.56 L618.5,495.69 L619.5,495.83 L620.5,495.96 L621.5,496.10 L622.5,496.23 L623.5,496.36 L624.5,496.50 L625.5,496.63 L626.5,496.75 L627.5,496.88 L628.5,497.01 L629.5,497.13 L630.5,497.26 L631.5,497.38 L632.5,497.51 L633.5,497.63 L634.5,497.75 L635.5,497.87 L636.5,497.99 L637.5,498.11 L638.5,498.22 L639.5,498.34 L640.5,498.46 L641.5,498.57 L642.5,498.69 L643.5,498.80 L644.5,498.91 L645.5,499.02 L646.5,499.13 L647.5,499.24 L648.5,499.35 L649.5,499.46 L650.5,499.57 L651.5,499.67 L652.5,499.78 L653.5,499.88 L654.5,499.99 L655.5,500.09 L656.5,500.19 L657.5,500.29 L658.5,500.40 L659.5,500.50 L660.5,500.60 L661.5,500.69 L662.5,500.79 L663.5,500.89 L664.5,500.99 L665.5,501.08 L666.5,501.18 L667.5,501.27 L668.5,501.37 L669.5,501.46 L670.5,501.55 L671.5,501.64 L672.5,501.74 L673.5,501.83 L674.5,501.92 L675.5,502.01 L676.5,502.10 L677.5,502.18 L678.5,502.27 L679.5,502.36 L680.5,502.44 L681.5,502.53 L682.5,502.62 L683.5,502.70 L684.5,502.78 L685.5,502.87 L686.5,502.95 L687.5,503.03 L688.5,503.11 L689.5,503.20 L690.5,503.28 L691.5,503.36 L692.5,503.44 L693.5,503.52 L694.5,503.59 L695.5,503.67 L696.5,503.75 L697.5,503.83 L698.5,503.90 L699.5,503.98 L700.5,504.05 L701.5,504.13 L702.5,504.20 L703.5,504.28 L704.5,504.35 L705.5,504.43 L706.5,504.50 L707.5,504.57 L708.5,504.64 L709.5,504.71 L710.5,504.78 L711.5,504.85 L712.5,504.92" fill="none" stroke="#1a12b6" stroke-width="2"/>
</g>
<line x1="141.20999999999998" y1="522.5" x2="141.20999999999998" y2="516.5" stroke="#8c8c8c" stroke-width="1"/><line x1="141.20999999999998" y1="304" x2="141.20999999999998" y2="310" stroke="#8c8c8c" stroke-width="1"/><line x1="236.42" y1="522.5" x2="236.42" y2="516.5" stroke="#8c8c8c" stroke-width="1"/><line x1="236.42" y1="304" x2="236.42" y2="310" stroke="#8c8c8c" stroke-width="1"/><line x1="331.63" y1="522.5" x2="331.63" y2="516.5" stroke="#8c8c8c" stroke-width="1"/><line x1="331.63" y1="304" x2="331.63" y2="310" stroke="#8c8c8c" stroke-width="1"/><line x1="426.84" y1="522.5" x2="426.84" y2="516.5" stroke="#8c8c8c" stroke-width="1"/><line x1="426.84" y1="304" x2="426.84" y2="310" stroke="#8c8c8c" stroke-width="1"/><line x1="522.05" y1="522.5" x2="522.05" y2="516.5" stroke="#8c8c8c" stroke-width="1"/><line x1="522.05" y1="304" x2="522.05" y2="310" stroke="#8c8c8c" stroke-width="1"/><line x1="617.26" y1="522.5" x2="617.26" y2="516.5" stroke="#8c8c8c" stroke-width="1"/><line x1="617.26" y1="304" x2="617.26" y2="310" stroke="#8c8c8c" stroke-width="1"/><line x1="46" y1="478.8" x2="52" y2="478.8" stroke="#8c8c8c" stroke-width="1"/><line x1="712.5" y1="478.8" x2="706.5" y2="478.8" stroke="#8c8c8c" stroke-width="1"/><line x1="46" y1="435.1" x2="52" y2="435.1" stroke="#8c8c8c" stroke-width="1"/><line x1="712.5" y1="435.1" x2="706.5" y2="435.1" stroke="#8c8c8c" stroke-width="1"/><line x1="46" y1="391.4" x2="52" y2="391.4" stroke="#8c8c8c" stroke-width="1"/><line x1="712.5" y1="391.4" x2="706.5" y2="391.4" stroke="#8c8c8c" stroke-width="1"/><line x1="46" y1="347.7" x2="52" y2="347.7" stroke="#8c8c8c" stroke-width="1"/><line x1="712.5" y1="347.7" x2="706.5" y2="347.7" stroke="#8c8c8c" stroke-width="1"/><line x1="45.5" y1="304" x2="713" y2="304" stroke="#666" stroke-width="1"/><line x1="46" y1="303.5" x2="46" y2="523" stroke="#5c5c5c" stroke-width="1"/><line x1="46" y1="522.5" x2="713" y2="522.5" stroke="#8c8c8c" stroke-width="1" shape-rendering="crispEdges"/><line x1="712.5" y1="304" x2="712.5" y2="523" stroke="#8c8c8c" stroke-width="1" shape-rendering="crispEdges"/>
<g font-size="12.3" fill="#1a1a1a"><text x="45.80" y="535.9" text-anchor="middle">8340</text><text x="141.01" y="535.9" text-anchor="middle">8350</text><text x="236.22" y="535.9" text-anchor="middle">8360</text><text x="331.43" y="535.9" text-anchor="middle">8370</text><text x="426.64" y="535.9" text-anchor="middle">8380</text><text x="521.85" y="535.9" text-anchor="middle">8390</text><text x="617.06" y="535.9" text-anchor="middle">8400</text><text x="712.27" y="535.9" text-anchor="middle">8410</text><text x="44.4" y="526.70" text-anchor="end">0</text><text x="44.4" y="483.00" text-anchor="end">0.05</text><text x="44.4" y="439.30" text-anchor="end">0.1</text><text x="44.4" y="395.60" text-anchor="end">0.15</text><text x="44.4" y="351.90" text-anchor="end">0.2</text><text x="44.4" y="308.20" text-anchor="end">0.25</text></g>
<rect x="307.5" y="307.5" width="404" height="33" fill="#fff" stroke="#8c8c8c" stroke-width="1" shape-rendering="crispEdges"/>
<line x1="310.2" y1="315.3" x2="328.5" y2="315.3" stroke="#da1a22" stroke-width="2"/>
<line x1="310.2" y1="331" x2="328.5" y2="331" stroke="#1a12b6" stroke-width="2"/>
<g font-size="12.3" fill="#1a1a1a"><text x="330.5" y="320.6" letter-spacing="0.02">No.1,5,3 and 7 patches are used as detecting and exciting electrodes</text><text x="330.5" y="336.4" letter-spacing="0.02">No.2,6,4 and 8 patches are used as detecting and exciting electrodes</text></g>
<text x="378.5" y="547.6" font-size="12.3" fill="#1a1a1a" text-anchor="middle">Frequency (Hz)</text>
<text transform="translate(14.6,413.2) rotate(-90)" font-size="12.42" fill="#1a1a1a" text-anchor="middle">Vibratry amplitude detected by patches (mV)</text>
<text x="366.3" y="577.9" font-family='"Liberation Serif", serif' font-size="21" fill="#000" text-anchor="middle">(<tspan font-weight="bold">b</tspan>)</text>
</svg></body></html>
